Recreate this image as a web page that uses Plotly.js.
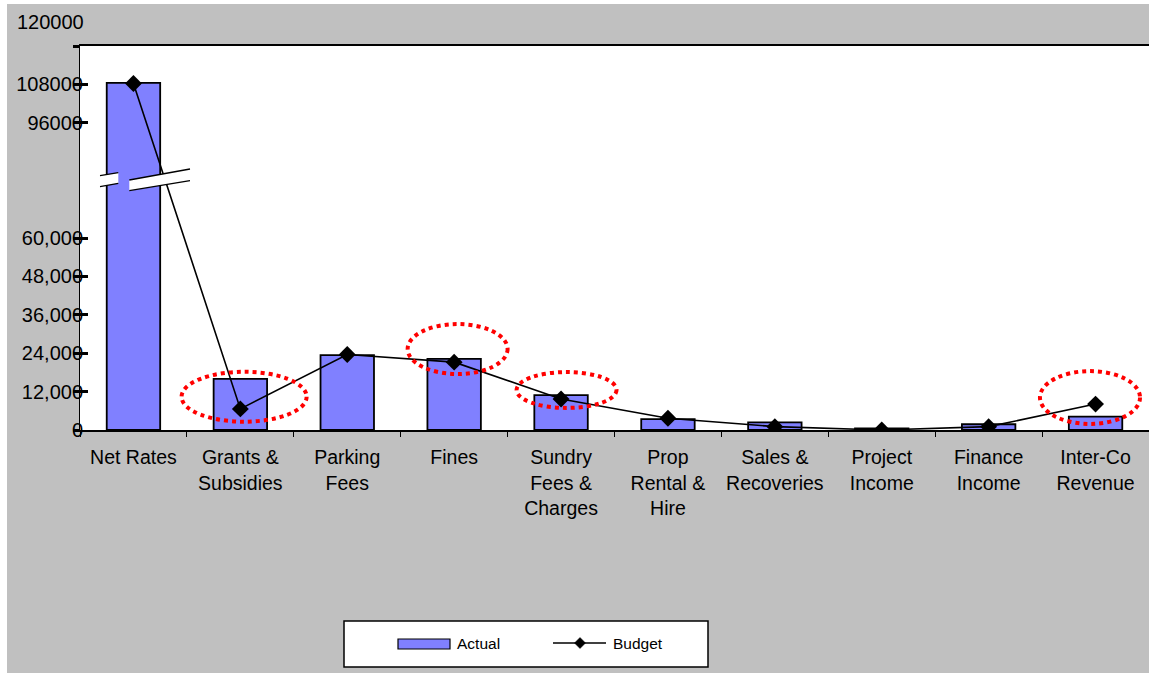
<!DOCTYPE html>
<html>
<head>
<meta charset="utf-8">
<script src="https://cdn.plot.ly/plotly-3.0.1.min.js"></script>
<style>
  html, body { margin: 0; padding: 0; background: #ffffff; }
  #chart { position: absolute; left: 7px; top: 4px; width: 1142px; height: 669px; }
</style>
</head>
<body>
<div id="chart"></div>
<script>
// ---- data ----
const categories = ["Net Rates", "Grants & Subsidies", "Parking Fees", "Fines", "Sundry Fees & Charges",
                    "Prop Rental & Hire", "Sales & Recoveries", "Project Income", "Finance Income", "Inter-Co Revenue"];
const categoryLabels = ["Net Rates", "Grants &<br>Subsidies", "Parking<br>Fees", "Fines", "Sundry<br>Fees &<br>Charges",
                        "Prop<br>Rental &<br>Hire", "Sales &<br>Recoveries", "Project<br>Income", "Finance<br>Income", "Inter-Co<br>Revenue"];
const actual = [108500, 16000, 23400, 22200, 10900, 3400, 2400, 500, 1800, 4200];
const budget = [108300, 6600, 23600, 21200, 9700, 3650, 1050, 0, 1050, 8100];
const yTickVals = [0, 12000, 24000, 36000, 48000, 60000, 96000, 108000, 120000];
const yTickText = ["0", "12,000", "24,000", "36,000", "48,000", "60,000", "96000", "108000", ""];
const topTickLabel = "120000";
const seriesNames = ["Actual", "Budget"];
const highlighted = ["Grants & Subsidies", "Fines", "Sundry Fees & Charges", "Inter-Co Revenue"];

// ---- layout helpers (plot area in picture: x 80..1149, y 46..430) ----
const PX0 = 80, PW = 1069, PY0 = 430, PH = 384;
const px = x => (x - PX0) / PW;
const py = y => (PY0 - y) / PH;
const yMax = 120000;
const font = "Liberation Sans, Arial, sans-serif";
const barColor = "#8080FF";

const traces = [
  {
    type: "bar", name: seriesNames[0], x: categories, y: actual,
    marker: { color: barColor, line: { color: "#000000", width: 1.8 } },
    showlegend: false
  },
  {
    type: "scatter", mode: "lines+markers", name: seriesNames[1], x: categories, y: budget,
    yaxis: "y2",
    line: { color: "#000000", width: 1.6 },
    marker: { symbol: "diamond", size: 13, color: "#000000" },
    showlegend: false
  }
];

// axis break marks (decoration)
function quad(pts) {
  return "M" + pts.map(p => px(p[0]) + "," + py(p[1])).join(" L") + " Z";
}
function lines2(pts) {
  return "M" + px(pts[0][0]) + "," + py(pts[0][1]) + " L" + px(pts[1][0]) + "," + py(pts[1][1]) +
         " M" + px(pts[3][0]) + "," + py(pts[3][1]) + " L" + px(pts[2][0]) + "," + py(pts[2][1]);
}
const breakA = [[100, 175.7], [118.3, 172.7], [118.3, 183.3], [100, 186.7]];
const breakB = [[129.3, 180], [190, 169], [190, 180.7], [129.3, 190.7]];
const shapes = [];
[breakA, breakB].forEach(q => {
  shapes.push({ type: "path", xref: "paper", yref: "paper", path: quad(q), fillcolor: "#ffffff", line: { width: 0 }, layer: "above" });
  shapes.push({ type: "path", xref: "paper", yref: "paper", path: lines2(q), line: { color: "#000000", width: 1.3 }, layer: "above" });
});

// red dotted highlight ellipses around budget points
const ellipseBox = {
  "Grants & Subsidies": { dx0: -0.55, dx1: 0.62, dy0: -4000, dy1: 11600 },
  "Fines": { dx0: -0.435, dx1: 0.50, dy0: -3700, dy1: 11900 },
  "Sundry Fees & Charges": { dx0: -0.416, dx1: 0.519, dy0: -2800, dy1: 8400 },
  "Inter-Co Revenue": { dx0: -0.52, dx1: 0.416, dy0: -6200, dy1: 10300 }
};
highlighted.forEach(name => {
  const i = categories.indexOf(name);
  const b = ellipseBox[name];
  shapes.push({
    type: "circle", xref: "x", yref: "y",
    x0: i + b.dx0, x1: i + b.dx1, y0: budget[i] + b.dy0, y1: budget[i] + b.dy1,
    line: { color: "#FF0000", width: 4, dash: "dot" }, layer: "above"
  });
});

// legend (drawn box, swatches and labels)
const legY = 643;
shapes.push({ type: "rect", xref: "paper", yref: "paper", x0: px(344), x1: px(708), y0: py(621), y1: py(667),
              fillcolor: "#FFFFFF", line: { color: "#000000", width: 1.5 }, layer: "above" });
shapes.push({ type: "rect", xref: "paper", yref: "paper", x0: px(398), x1: px(450), y0: py(639), y1: py(649),
              fillcolor: barColor, line: { color: "#000000", width: 1.2 }, layer: "above" });
shapes.push({ type: "line", xref: "paper", yref: "paper", x0: px(553), x1: px(606), y0: py(legY), y1: py(legY),
              line: { color: "#000000", width: 1.6 }, layer: "above" });
shapes.push({ type: "path", xref: "paper", yref: "paper",
              path: "M" + px(574.5) + "," + py(legY) + " L" + px(580) + "," + py(legY - 5.5) + " L" + px(585.5) + "," + py(legY) +
                    " L" + px(580) + "," + py(legY + 5.5) + " Z",
              fillcolor: "#000000", line: { color: "#000000", width: 0.5 }, layer: "above" });

const annotations = [
  {
    xref: "paper", yref: "y", x: 0, y: yMax, xanchor: "right", yanchor: "middle",
    xshift: 6, yshift: 24, text: topTickLabel, showarrow: false,
    font: { family: font, size: 20, color: "#000000" }
  },
  {
    xref: "paper", yref: "paper", x: px(455), y: py(legY), xanchor: "left", yanchor: "middle",
    text: seriesNames[0], showarrow: false, font: { family: font, size: 15.5, color: "#000000" }
  },
  {
    xref: "paper", yref: "paper", x: px(611), y: py(legY), xanchor: "left", yanchor: "middle",
    text: seriesNames[1], showarrow: false, font: { family: font, size: 15.5, color: "#000000" }
  }
];

const layout = {
  width: 1142, height: 669,
  margin: { l: 73, r: 0, t: 42, b: 243, pad: 0 },
  paper_bgcolor: "#C0C0C0",
  plot_bgcolor: "#FFFFFF",
  font: { family: font, size: 19.5, color: "#000000" },
  bargap: 0.5,
  showlegend: false,
  xaxis: {
    type: "category",
    range: [-0.5, categories.length - 0.5],
    tickvals: categories, ticktext: categoryLabels,
    tickangle: 0,
    showline: true, linecolor: "#000000", linewidth: 2, mirror: true,
    ticks: "outside", tickson: "boundaries", ticklen: 5, tickwidth: 1, tickcolor: "#000000",
    showgrid: false, zeroline: false,
    tickfont: { family: font, size: 19.5, color: "#000000" },
    ticklabelstandoff: 9,
    fixedrange: true
  },
  yaxis: {
    range: [0, yMax],
    tickmode: "array", tickvals: yTickVals, ticktext: yTickText,
    showline: true, linecolor: "#000000", linewidth: 1,
    ticks: "outside", ticklen: 6, tickwidth: 3, tickcolor: "#000000",
    showgrid: false, zeroline: false,
    tickfont: { family: font, size: 20, color: "#000000" },
    ticklabelstandoff: -14,
    fixedrange: true
  },
  yaxis2: {
    overlaying: "y", side: "left",
    range: [0, yMax],
    tickmode: "array", tickvals: yTickVals,
    ticks: "inside", ticklen: 8, tickwidth: 3, tickcolor: "#000000",
    showticklabels: false, showline: false, showgrid: false, zeroline: false,
    fixedrange: true
  },
  shapes: shapes,
  annotations: annotations
};

Plotly.newPlot("chart", traces, layout, { displayModeBar: false, staticPlot: true });
</script>
</body>
</html>
